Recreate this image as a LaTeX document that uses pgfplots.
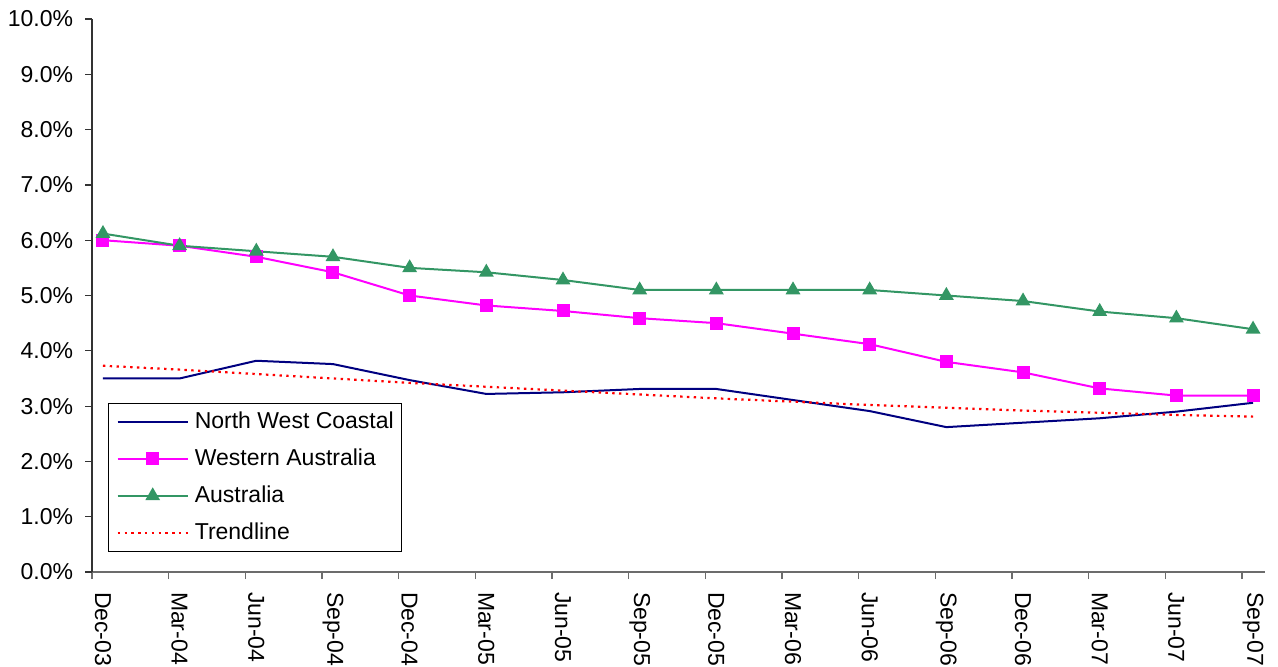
\documentclass[border=0pt]{standalone}
\usepackage{pgfplots}
\pgfplotsset{compat=1.18}
\usepackage{pgfplotstable}
\usepackage{fontspec}
\setmainfont{Liberation Sans}
\definecolor{nwc}{RGB}{0,0,128}
\definecolor{wa}{RGB}{255,0,255}
\definecolor{aus}{RGB}{51,150,100}
\pgfplotstableread{
i NWC WA AUS TR
0 3.50 6.00 6.12 3.73
1 3.50 5.90 5.90 3.66
2 3.82 5.70 5.80 3.58
3 3.76 5.42 5.70 3.50
4 3.47 5.00 5.50 3.42
5 3.22 4.82 5.42 3.35
6 3.25 4.72 5.28 3.28
7 3.31 4.59 5.10 3.21
8 3.31 4.50 5.10 3.14
9 3.11 4.31 5.10 3.08
10 2.91 4.12 5.10 3.02
11 2.62 3.80 5.00 2.97
12 2.70 3.61 4.90 2.92
13 2.78 3.32 4.71 2.88
14 2.90 3.19 4.59 2.84
15 3.06 3.19 4.39 2.81
}\datatable
\begin{document}
\begin{tikzpicture}
\useasboundingbox (-46pt,-47pt) rectangle (593pt,286pt);
\begin{axis}[
  at={(0,0)}, anchor=south west,
  scale only axis, width=586.5pt, height=276.5pt,
  font=\fontsize{11.5}{13.8}\selectfont,
  xmin=-0.143, xmax=15.156, ymin=0, ymax=10,
  axis x line=bottom, axis y line=left,
  x axis line style={-, draw=gray!85!black, line width=0.6pt},
  y axis line style={-, draw=black!80, line width=0.6pt},
  tick align=outside,
  major tick length=3.5pt, minor tick length=3.5pt,
  ytick={0,1,...,10},
  yticklabels={0.0\%,1.0\%,2.0\%,3.0\%,4.0\%,5.0\%,6.0\%,7.0\%,8.0\%,9.0\%,10.0\%},
  yticklabel style={inner xsep=5.8pt},
  ytick style={draw=black!80, line width=0.6pt},
  xtick={0,...,15},
  xticklabels={Dec-03,Mar-04,Jun-04,Sep-04,Dec-04,Mar-05,Jun-05,Sep-05,Dec-05,Mar-06,Jun-06,Sep-06,Dec-06,Mar-07,Jun-07,Sep-07},
  major x tick style={draw=none},
  minor xtick={-0.143,0.857,1.857,2.857,3.857,4.857,5.857,6.857,7.857,8.857,9.857,10.857,11.857,12.857,13.857,14.857},
  minor x tick style={draw=gray!85!black, line width=0.6pt},
  xticklabel style={rotate=-90, anchor=west, inner xsep=6.3pt},
  legend cell align=left,
  legend image code/.code={\draw[mark repeat=2,mark phase=2,#1] plot coordinates {(0pt,0pt) (17.5pt,0pt) (35pt,0pt)};},
  legend style={at={(0.01364,0.0362)}, anchor=south west, draw=black, line width=0.6pt,
    inner xsep=4pt, inner ysep=0pt, row sep=0pt, column sep=3pt,
    nodes={inner sep=0pt, minimum height=18.5pt}},
]
\addplot[nwc, line width=1pt, no markers] table[x=i, y=NWC] {\datatable};
\addlegendentry{North West Coastal}
\addplot[wa, line width=1pt, mark=square*, mark size=2.75pt, mark options={solid, fill=wa}] table[x=i, y=WA] {\datatable};
\addlegendentry{Western Australia}
\addplot[aus, line width=1pt, mark=triangle*, mark size=3.3pt, mark options={solid, fill=aus}] table[x=i, y=AUS] {\datatable};
\addlegendentry{Australia}
\addplot[red, line width=1.1pt, no markers, dash pattern=on 1.2pt off 2.2pt] table[x=i, y=TR] {\datatable};
\addlegendentry{Trendline}
\end{axis}
\end{tikzpicture}
\end{document}
